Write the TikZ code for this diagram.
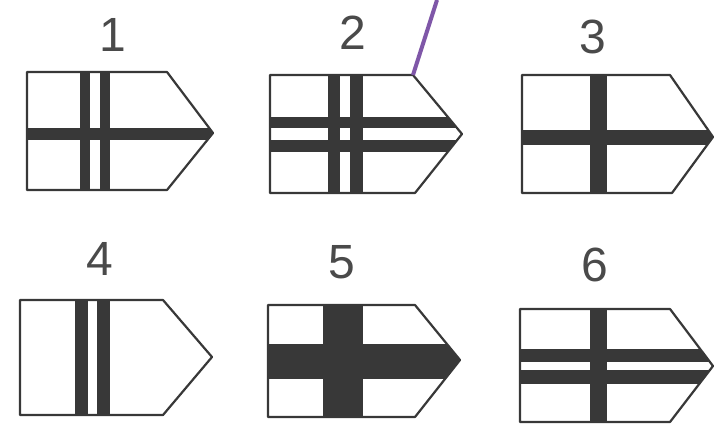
\documentclass[tikz,border=0pt]{standalone}
\usepackage{fontspec}
\setmainfont{Liberation Sans}
\definecolor{ink}{HTML}{383838}
\definecolor{digit}{HTML}{4A4A4A}
\definecolor{violetline}{HTML}{7F57A8}
\tikzset{
  flagedge/.style={draw=ink, line width=2.2pt, line join=round},
  band/.style={fill=ink},
  num/.style={font=\fontsize{48}{48}\selectfont, text=digit, inner sep=0pt},
  pointer/.style={draw=violetline, line width=4pt}
}
\begin{document}
\begin{tikzpicture}[x=1pt,y=-1pt]
\useasboundingbox[fill=white] (0,0) rectangle (721,424);
% Flag 1
\begin{scope}
\clip (27,72) -- (167,72) -- (213,133) -- (167,190) -- (27,190) -- cycle;
\fill[band] (80,60) rectangle (90,200);
\fill[band] (100,60) rectangle (110,200);
\fill[band] (20,128) rectangle (220,140);
\end{scope}
\draw[flagedge] (27,72) -- (167,72) -- (213,133) -- (167,190) -- (27,190) -- cycle;
\node[num] (n1) at (113,35) {1};
% Flag 2
\begin{scope}
\clip (270,75) -- (413,75) -- (462,134) -- (415,193) -- (270,193) -- cycle;
\fill[band] (328,60) rectangle (340,200);
\fill[band] (350,60) rectangle (363,200);
\fill[band] (260,117) rectangle (470,128);
\fill[band] (260,140) rectangle (470,152);
\end{scope}
\draw[flagedge] (270,75) -- (413,75) -- (462,134) -- (415,193) -- (270,193) -- cycle;
\coordinate (c2) at (413,75);
\coordinate (p0) at (437,0);
\draw[pointer] (c2) -- (p0);
\node[num] (n2) at (353,33) {2};
% Flag 3
\begin{scope}
\clip (522,75) -- (670,75) -- (713,137) -- (672,193) -- (522,193) -- cycle;
\fill[band] (590,60) rectangle (607,200);
\fill[band] (510,130) rectangle (720,145);
\end{scope}
\draw[flagedge] (522,75) -- (670,75) -- (713,137) -- (672,193) -- (522,193) -- cycle;
\node[num] (n3) at (593,37) {3};
% Flag 4
\begin{scope}
\clip (20,300) -- (163,300) -- (212,357) -- (163,415) -- (20,415) -- cycle;
\fill[band] (75,290) rectangle (88,420);
\fill[band] (97,290) rectangle (110,420);
\end{scope}
\draw[flagedge] (20,300) -- (163,300) -- (212,357) -- (163,415) -- (20,415) -- cycle;
\node[num] (n4) at (100,259) {4};
% Flag 5
\begin{scope}
\clip (268,305) -- (415,305) -- (460,360) -- (415,417) -- (268,417) -- cycle;
\fill[band] (323,295) rectangle (363,424);
\fill[band] (260,344) rectangle (470,379);
\end{scope}
\draw[flagedge] (268,305) -- (415,305) -- (460,360) -- (415,417) -- (268,417) -- cycle;
\node[num] (n5) at (342,262) {5};
% Flag 6
\begin{scope}
\clip (520,309) -- (670,309) -- (713,366) -- (670,422) -- (520,422) -- cycle;
\fill[band] (590,300) rectangle (607,424);
\fill[band] (510,349) rectangle (720,362);
\fill[band] (510,370) rectangle (720,384);
\end{scope}
\draw[flagedge] (520,309) -- (670,309) -- (713,366) -- (670,422) -- (520,422) -- cycle;
\node[num] (n6) at (595,265) {6};
\end{tikzpicture}
\end{document}
